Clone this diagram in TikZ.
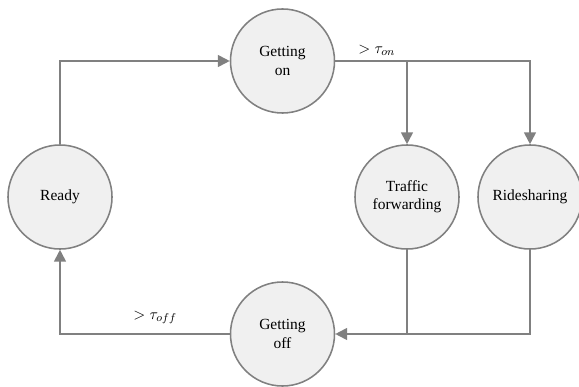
\documentclass[tikz,border=0pt]{standalone}
\usepackage{fontspec}
\setmainfont{Liberation Serif}
\usepackage{amsmath}
\usepackage{tikz}
\usetikzlibrary{arrows.meta, calc}
\definecolor{linegray}{RGB}{128,128,128}
\definecolor{fillgray}{RGB}{240,240,240}

\begin{document}
\begin{tikzpicture}[x=0.025cm, y=-0.025cm,
      state/.style={draw=linegray, line width=1.1pt, circle, fill=fillgray,
                    minimum size=2.6cm, inner sep=0pt, align=center,
                    font=\fontsize{11}{13}\selectfont},
      link/.style={draw=linegray, line width=1.3pt},
      lbl/.style={font=\fontsize{11}{13}\selectfont},
      >={Triangle[length=8.5pt, width=8.5pt]}]
    \useasboundingbox (0,0) rectangle (579,387);
    \node[state] (ready)   at (60,197)    {Ready};
    \node[state] (geton)   at (282.5,61)  {Getting\\on};
    \node[state] (traffic) at (407,197)   {Traffic\\forwarding};
    \node[state] (ride)    at (530,197)   {Ridesharing};
    \node[state] (getoff)  at (282.5,334) {Getting\\off};
    \coordinate (split) at (traffic.north |- geton.east);
    \coordinate (join)  at (traffic.south |- getoff.east);
    \draw[link, ->] (ready.north) |- (geton.west);
    \draw[link] (geton.east) -- node[above, lbl, xshift=4pt]{$>\tau_{on}$} (split);
    \draw[link, ->] (split) -| (ride.north);
    \draw[link, ->] (split) -- (traffic.north);
    \draw[link] (traffic.south) -- (join);
    \draw[link, ->] (ride.south) |- (getoff.east);
    \draw[link, ->] (getoff.west) -| node[pos=0.22, above=3pt, lbl]{$>\tau_{off}$} (ready.south);
\end{tikzpicture}
\end{document}
